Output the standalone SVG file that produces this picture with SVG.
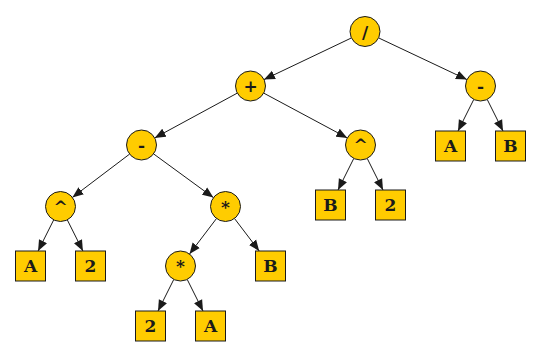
<svg xmlns="http://www.w3.org/2000/svg" width="540" height="357" viewBox="0 0 540 357">
<style>
.n{fill:#FFCC00;stroke:#1a1a1a;stroke-width:1}
.t{font-family:"DejaVu Serif","Liberation Mono",serif;font-weight:bold;font-size:17px;fill:#1a1a1a;text-anchor:middle}
.e{stroke:#1a1a1a;stroke-width:1;fill:none;marker-end:url(#ah)}
</style>
<defs>
<marker id="ah" markerUnits="userSpaceOnUse" markerWidth="12" markerHeight="10" refX="11" refY="5" orient="auto">
<path d="M0,0.5 L11,5 L0,9.5 Z" fill="#1a1a1a"/>
</marker>
</defs>
<rect width="540" height="357" fill="#fff"/>
<g id="connectors">
<line class="e" x1="351.5" y1="37.9" x2="264" y2="79.6"/>
<line class="e" x1="378.6" y1="37.9" x2="466.9" y2="79.6"/>
<line class="e" x1="237.3" y1="93.1" x2="154.7" y2="137.9"/>
<line class="e" x1="263.7" y1="93.1" x2="347.3" y2="137.9"/>
<line class="e" x1="473.8" y1="99.4" x2="458" y2="131"/>
<line class="e" x1="487.2" y1="99.4" x2="503" y2="131"/>
<line class="e" x1="129.6" y1="154.1" x2="72.4" y2="197.4"/>
<line class="e" x1="153.6" y1="153.9" x2="213.4" y2="197.6"/>
<line class="e" x1="353.8" y1="158.4" x2="338" y2="190"/>
<line class="e" x1="367.2" y1="158.4" x2="383" y2="190"/>
<line class="e" x1="53.7" y1="219.9" x2="38.1" y2="251"/>
<line class="e" x1="67.3" y1="219.9" x2="82.9" y2="251"/>
<line class="e" x1="216.5" y1="218.5" x2="189.5" y2="254"/>
<line class="e" x1="234.5" y1="218.5" x2="259.2" y2="251"/>
<line class="e" x1="173.8" y1="279.4" x2="158" y2="311"/>
<line class="e" x1="187.2" y1="279.4" x2="203" y2="311"/>
</g>
<g id="n1"><circle class="n" cx="365" cy="31.5" r="15"/><text class="t" x="365" y="38">/</text></g>
<g id="n2"><circle class="n" cx="250.5" cy="86" r="15"/><text class="t" x="250.5" y="92">+</text></g>
<g id="n3"><circle class="n" cx="480.5" cy="86" r="15"/><text class="t" x="480.5" y="92">-</text></g>
<g id="n4"><circle class="n" cx="141.5" cy="145" r="15"/><text class="t" x="141.5" y="151">-</text></g>
<g id="n5"><circle class="n" cx="360.5" cy="145" r="15"/><text class="t" x="360.5" y="151">^</text></g>
<g id="n6"><rect class="n" x="435.5" y="131" width="30" height="30"/><text class="t" x="450.5" y="152">A</text></g>
<g id="n7"><rect class="n" x="495.5" y="131" width="30" height="30"/><text class="t" x="510.5" y="152">B</text></g>
<g id="n8"><circle class="n" cx="60.5" cy="206.5" r="15"/><text class="t" x="60.5" y="212.5">^</text></g>
<g id="n9"><circle class="n" cx="225.5" cy="206.5" r="15"/><text class="t" x="225.5" y="212.5">*</text></g>
<g id="n10"><rect class="n" x="315.5" y="190" width="30" height="30"/><text class="t" x="330.5" y="211">B</text></g>
<g id="n11"><rect class="n" x="375.5" y="190" width="30" height="30"/><text class="t" x="390.5" y="211">2</text></g>
<g id="n12"><rect class="n" x="15.5" y="251" width="30" height="30"/><text class="t" x="30.5" y="272">A</text></g>
<g id="n13"><rect class="n" x="75.5" y="251" width="30" height="30"/><text class="t" x="90.5" y="272">2</text></g>
<g id="n14"><circle class="n" cx="180.5" cy="266" r="15"/><text class="t" x="180.5" y="272">*</text></g>
<g id="n15"><rect class="n" x="255.5" y="251" width="30" height="30"/><text class="t" x="270.5" y="272">B</text></g>
<g id="n16"><rect class="n" x="135.5" y="311" width="30" height="30"/><text class="t" x="150.5" y="332">2</text></g>
<g id="n17"><rect class="n" x="195.5" y="311" width="30" height="30"/><text class="t" x="210.5" y="332">A</text></g>
</svg>
